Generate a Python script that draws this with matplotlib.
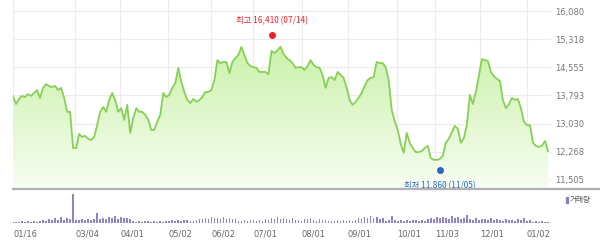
import matplotlib
matplotlib.use("Agg")
import matplotlib.pyplot as plt
import numpy as np
from matplotlib.lines import Line2D
from matplotlib.patches import Rectangle

# ------------------------------------------------------------
# Data
# ------------------------------------------------------------

# closing prices, one value every ~2 trading days from 01/16
close = [
    13780, 13560, 13700, 13780, 13750, 13830, 13780, 13860, 13940, 13730,
    14000, 14100, 14050, 14020, 14050, 13940, 14000, 13730, 13350, 13350,
    12370, 12370, 12750, 12670, 12700, 12620, 12590, 12670, 12990, 13350,
    13480, 13350, 13670, 13860, 13670, 13350, 13450, 13130, 13540, 12780,
    13180, 13450, 13350, 13350, 13270, 13130, 12860, 12860, 13080, 13270,
    13860, 13750, 13810, 14000, 14130, 14540, 14160, 13890, 13670, 13590,
    13700, 13620, 13670, 13750, 13890, 13890, 13940, 14210, 14750, 14670,
    14700, 14700, 14400, 14700, 14810, 14890, 15110, 14890, 14670, 14590,
    14560, 14540, 14430, 14430, 14430, 14370, 15000, 14940, 15020, 15110,
    14920, 14810, 14750, 14670, 14540, 14560, 14560, 14480, 14590, 14750,
    14620, 14560, 14540, 14350, 14000, 14270, 14290, 14210, 14430, 14350,
    14270, 14000, 13670, 13540, 13620, 13730, 13860, 14050, 14210, 14270,
    14290, 14700, 14670, 14670, 14560, 14210, 13400, 13100, 12860, 12480,
    12240, 12780, 12510, 12370, 12260, 12260, 12290, 12370, 12430, 12100,
    12050, 12050, 12070, 12160, 12510, 12620, 12800, 12970, 12890, 12510,
    12640, 12990, 13810, 13560, 13890, 14320, 14780, 14750, 14730, 14430,
    14320, 14240, 14190, 13670, 13450, 13560, 13730, 13670, 13700, 13450,
    13080, 12990, 12990, 12510, 12430, 12400, 12430, 12560, 12290,
]

# volume (thousand shares), same spacing as close
volume = [
    120, 150, 110, 160, 130, 180, 140, 170, 150, 200,
    300, 220, 450, 280, 520, 350, 600, 300, 480, 380,
    2900,
    350, 300, 420, 280, 380, 330, 450,
    1000,
    420, 550, 380, 650, 500, 700, 420, 600, 480, 550, 400,
    200, 150, 180, 120, 220, 160, 140, 200, 130, 170, 150,
    250, 200, 300, 220, 280, 180, 260, 300, 240, 200, 280,
    450, 380, 550, 420, 600, 480, 520, 400, 580, 450, 500, 380, 420,
    250, 200, 300, 220, 280, 260, 200, 300, 240,
    400, 320, 550, 450, 600, 380, 500, 420, 350, 480, 300,
    300, 250, 450, 380, 500, 300, 220, 400, 280, 350, 250,
    200, 250, 300, 180, 260, 220, 280, 240, 300,
    500, 420, 650, 550, 700, 480, 600, 450, 520,
    250, 300, 700, 280, 220, 300, 250, 280, 200, 260, 300, 240, 280, 220,
    450, 520, 400, 600, 480, 650, 550, 420, 700, 500, 600, 450, 480,
    800,
    400, 350, 480, 300, 450, 380, 320, 500, 350, 400,
    300, 250, 450, 280, 350, 200, 420, 300, 500, 250, 350,
    150, 200, 120, 180, 100, 150,
]

date_labels = ["01/16", "03/04", "04/01", "05/02", "06/02", "07/01",
               "08/01", "09/01", "10/01", "11/03", "12/01", "01/02"]
date_idx = [0, 20.7, 35.7, 51.7, 66, 80, 96, 111.3, 127.7, 140.3, 155.3, 171]

price_ticks = [11505, 12268, 13030, 13793, 14555, 15318, 16080]

high_label = "최고 16,410 (07/14)"
high_idx, high_mark = 86.3, 15430
low_label = "최저 11,860 (11/05)"
low_idx, low_mark = 142, 11780

# ------------------------------------------------------------
# Figure
# ------------------------------------------------------------

W, H = 600, 247
fig = plt.figure(figsize=(W / 100, H / 100), dpi=100)
fig.patch.set_facecolor("white")

KR = ["Noto Sans CJK KR", "DejaVu Sans"]
x = np.arange(len(close))
xmax = 179

ax = fig.add_axes([13 / W, (H - 188) / H, (551 - 13) / W, 188 / H])
ax.set_xlim(0, xmax)
ax.set_ylim(11288, 16378)
for s in ax.spines.values():
    s.set_visible(False)

# gridlines
for p in price_ticks:
    ax.axhline(p, color="#ececec", lw=0.8, zorder=0)
for d in date_idx:
    ax.axvline(d, color="#ececec", lw=0.8, zorder=0)

# gradient fill under the line
ymin, ymax = ax.get_ylim()
grad = np.linspace(0, 1, 256).reshape(-1, 1)
top_c = np.array([0.74, 0.93, 0.58])
bot_c = np.array([0.97, 0.995, 0.95])
img = top_c * (1 - grad[..., None]) + bot_c * grad[..., None]
img = img.reshape(256, 1, 3)
poly = ax.fill_between(x, close, ymin, color="none", lw=0)
im = ax.imshow(img, extent=[0, xmax, ymin, ymax], aspect="auto",
               origin="upper", zorder=1)
path = poly.get_paths()[0]
im.set_clip_path(path, transform=ax.transData)
ax.plot(x, close, color="#86d055", lw=1.3, zorder=2)

# high / low markers
ax.plot(high_idx, high_mark, "o", color="#e8232a", ms=4, zorder=3)
ax.text(high_idx, high_mark + 400, high_label, color="#e8232a",
        fontsize=6, ha="center", va="center", family=KR)
ax.plot(low_idx, low_mark, "o", color="#2866c8", ms=4, zorder=3)
ax.text(low_idx, low_mark - 440, low_label, color="#2866c8",
        fontsize=6, ha="center", va="center", family=KR, clip_on=False)

ax.set_xticks([])
ax.yaxis.tick_right()
ax.set_yticks(price_ticks)
ax.set_yticklabels([f"{p:,}" for p in price_ticks])
ax.tick_params(axis="y", length=0, pad=3, labelsize=6, labelcolor="#777777")

# bottom border of the price panel
fig.add_artist(Line2D([13 / W, 1], [(H - 188.5) / H] * 2, color="#b0b0b0",
                      lw=1.6, transform=fig.transFigure))

# ------------------------------------------------------------
# Volume panel
# ------------------------------------------------------------

vax = fig.add_axes([13 / W, (H - 223) / H, (551 - 13) / W, 33 / H])
vax.set_xlim(0, xmax)
vax.set_ylim(0, 3300)
vax.bar(x, volume, width=0.55, color="#8d86c4", lw=0)
vax.axhline(0, color="#777777", lw=0.8)
for s in vax.spines.values():
    s.set_visible(False)
vax.set_yticks([])
vax.set_xticks(date_idx)
vax.set_xticklabels(date_labels, ha="left")
vax.tick_params(axis="x", length=0, pad=5, labelsize=6, labelcolor="#666666")

fig.add_artist(Rectangle((566 / W, (H - 203) / H), 1.5 / W, 6 / H,
                         color="#8a84bb", transform=fig.transFigure))
fig.text(570 / W, (H - 200) / H, "거래량", fontsize=5.5, color="#555555",
         va="center", ha="left", family=KR)

fig.savefig("out.png", dpi=100)
